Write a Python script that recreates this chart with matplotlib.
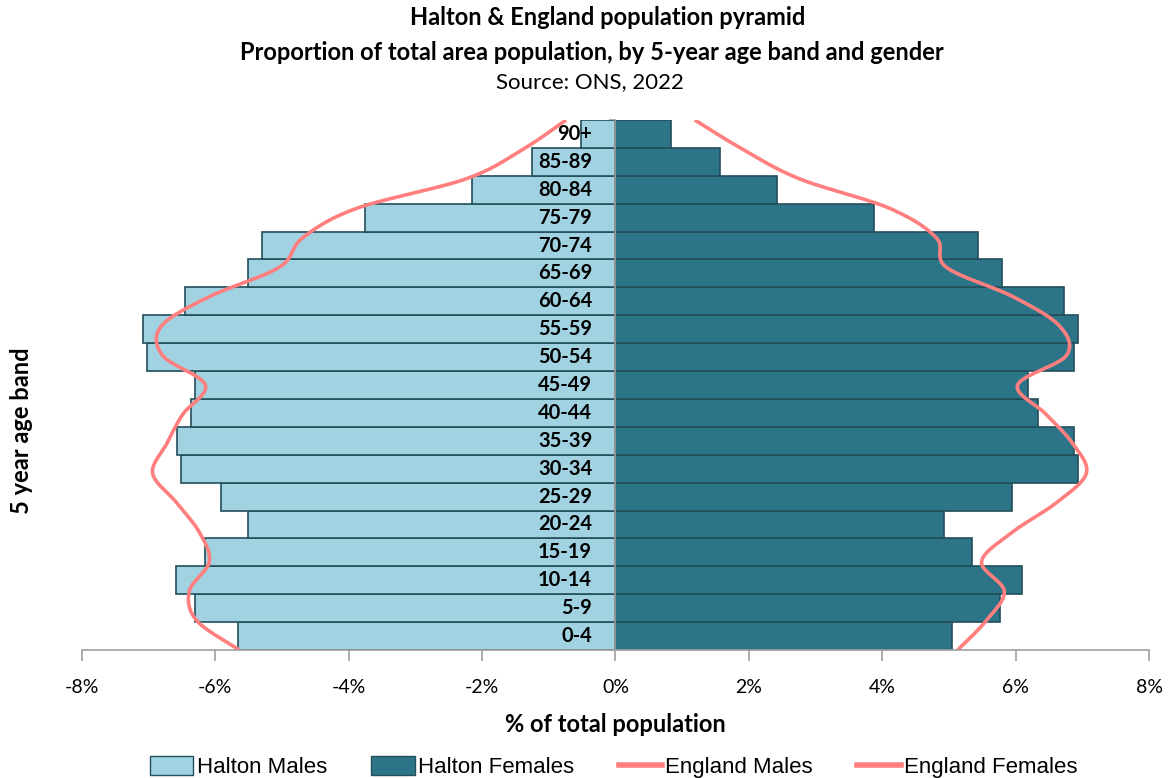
import matplotlib.pyplot as plt
import numpy as np
from matplotlib.patches import Patch
from matplotlib.lines import Line2D

# Age bands, youngest first
ages = ['0-4', '5-9', '10-14', '15-19', '20-24', '25-29', '30-34', '35-39',
        '40-44', '45-49', '50-54', '55-59', '60-64', '65-69', '70-74',
        '75-79', '80-84', '85-89', '90+']

# Halton, % of total population
halton_males = [5.66, 6.30, 6.59, 6.15, 5.51, 5.92, 6.51, 6.57, 6.36, 6.30,
                7.03, 7.08, 6.45, 5.51, 5.30, 3.75, 2.15, 1.25, 0.52]
halton_females = [5.04, 5.76, 6.10, 5.34, 4.93, 5.94, 6.93, 6.88, 6.33, 6.19,
                  6.88, 6.93, 6.73, 5.79, 5.43, 3.87, 2.42, 1.57, 0.83]

# England, % of total population
england_males = [5.64, 6.28, 6.39, 6.09, 6.24, 6.58, 6.94, 6.73, 6.49, 6.15,
                 6.79, 6.81, 6.09, 5.04, 4.69, 3.88, 2.24, 1.39, 0.74]
england_females = [5.13, 5.56, 5.83, 5.49, 5.95, 6.61, 7.06, 6.86, 6.46, 6.03,
                   6.76, 6.66, 5.96, 4.96, 4.81, 4.11, 2.76, 1.91, 1.19]

xticks = [-8, -6, -4, -2, 0, 2, 4, 6, 8]

light = '#A0D2E1'
dark = '#2C7589'
edge = '#234E5A'
pink = '#FF7F7F'

plt.rcParams['font.family'] = ['Lato', 'DejaVu Sans']


def smooth(xs, ys, sx=66.4, sy=27.8, n=24):
    # Catmull-Rom curve (like Excel's smoothed line), done in pixel-like scale
    p = np.column_stack([np.asarray(xs) * sx, np.asarray(ys) * sy])
    p = np.vstack([p[0], p, p[-1]])
    out = []
    t = np.linspace(0, 1, n, endpoint=False)[:, None]
    for i in range(1, len(p) - 2):
        p0, p1, p2, p3 = p[i - 1], p[i], p[i + 1], p[i + 2]
        c1 = p1 + (p2 - p0) / 6
        c2 = p2 - (p3 - p1) / 6
        seg = ((1 - t) ** 3) * p1 + 3 * ((1 - t) ** 2) * t * c1 + \
            3 * (1 - t) * t ** 2 * c2 + t ** 3 * p2
        out.append(seg)
    out.append(p[-2][None, :])
    out = np.vstack(out)
    return out[:, 0] / sx, out[:, 1] / sy


fig = plt.figure(figsize=(11.69, 7.78), dpi=100)
ax = fig.add_axes([0.0701, 0.1645, 0.9128, 0.6813])

y = np.arange(len(ages))
ax.barh(y, [-v for v in halton_males], height=1.0, color=light,
        edgecolor=edge, linewidth=1.2, zorder=2)
ax.barh(y, halton_females, height=1.0, color=dark,
        edgecolor=edge, linewidth=1.2, zorder=2)

# England lines on a secondary category scale: points span the full height
ly = np.linspace(-0.5, len(ages) - 0.5, len(ages))
mx, my = smooth([-v for v in england_males], ly)
fx, fy = smooth(england_females, ly)
ax.plot(mx, my, color=pink, lw=2.6, zorder=3, solid_capstyle='butt')
ax.plot(fx, fy, color=pink, lw=2.6, zorder=3, solid_capstyle='butt')

for yi, lab in zip(y, ages):
    ax.text(-0.35, yi, lab, ha='right', va='center', fontsize=14.5,
            fontweight='bold', color='black', zorder=4)

ax.set_xlim(-8, 8)
ax.set_ylim(-0.5, len(ages) - 0.5)
ax.set_xticks(xticks)
ax.set_xticklabels([f'{v}%' for v in xticks], fontsize=14)
ax.set_yticks(np.arange(-0.5, len(ages), 1.0))
ax.set_yticklabels([])
ax.spines['left'].set_position(('data', 0))
ax.spines['top'].set_visible(False)
ax.spines['right'].set_visible(False)
for s in ['left', 'bottom']:
    ax.spines[s].set_color('#A0A0A0')
    ax.spines[s].set_linewidth(1.2)
    ax.spines[s].set_zorder(5)
ax.tick_params(axis='x', direction='out', length=8, color='#A0A0A0',
               width=1.2, pad=13)
ax.tick_params(axis='y', direction='out', length=4, color='#A0A0A0',
               width=1.2)

ax.set_xlabel('% of total population', fontsize=17, fontweight='bold',
              labelpad=12)
fig.text(0.018, 0.447, '5 year age band', rotation=90, ha='center',
         va='center', fontsize=17, fontweight='bold')

fig.text(0.520, 0.977, 'Halton & England population pyramid', ha='center',
         va='center', fontsize=17, fontweight='bold')
fig.text(0.506, 0.933,
         'Proportion of total area population, by 5-year age band and gender',
         ha='center', va='center', fontsize=17, fontweight='bold')
fig.text(0.505, 0.895, 'Source: ONS, 2022', ha='center', va='center',
         fontsize=16)

handles = [Patch(facecolor=light, edgecolor=edge, label='Halton Males'),
           Patch(facecolor=dark, edgecolor=edge, label='Halton Females'),
           Line2D([0], [0], color=pink, lw=4, label='England Males'),
           Line2D([0], [0], color=pink, lw=4, label='England Females')]
fig.legend(handles=handles, loc='center', bbox_to_anchor=(0.525, 0.014),
           ncol=4, frameon=False, handlelength=1.95, handleheight=0.9,
           handletextpad=0.15, columnspacing=2.0, borderpad=0,
           prop={'family': ['Liberation Sans', 'DejaVu Sans'], 'size': 16})

fig.savefig('out.png', dpi=100)
